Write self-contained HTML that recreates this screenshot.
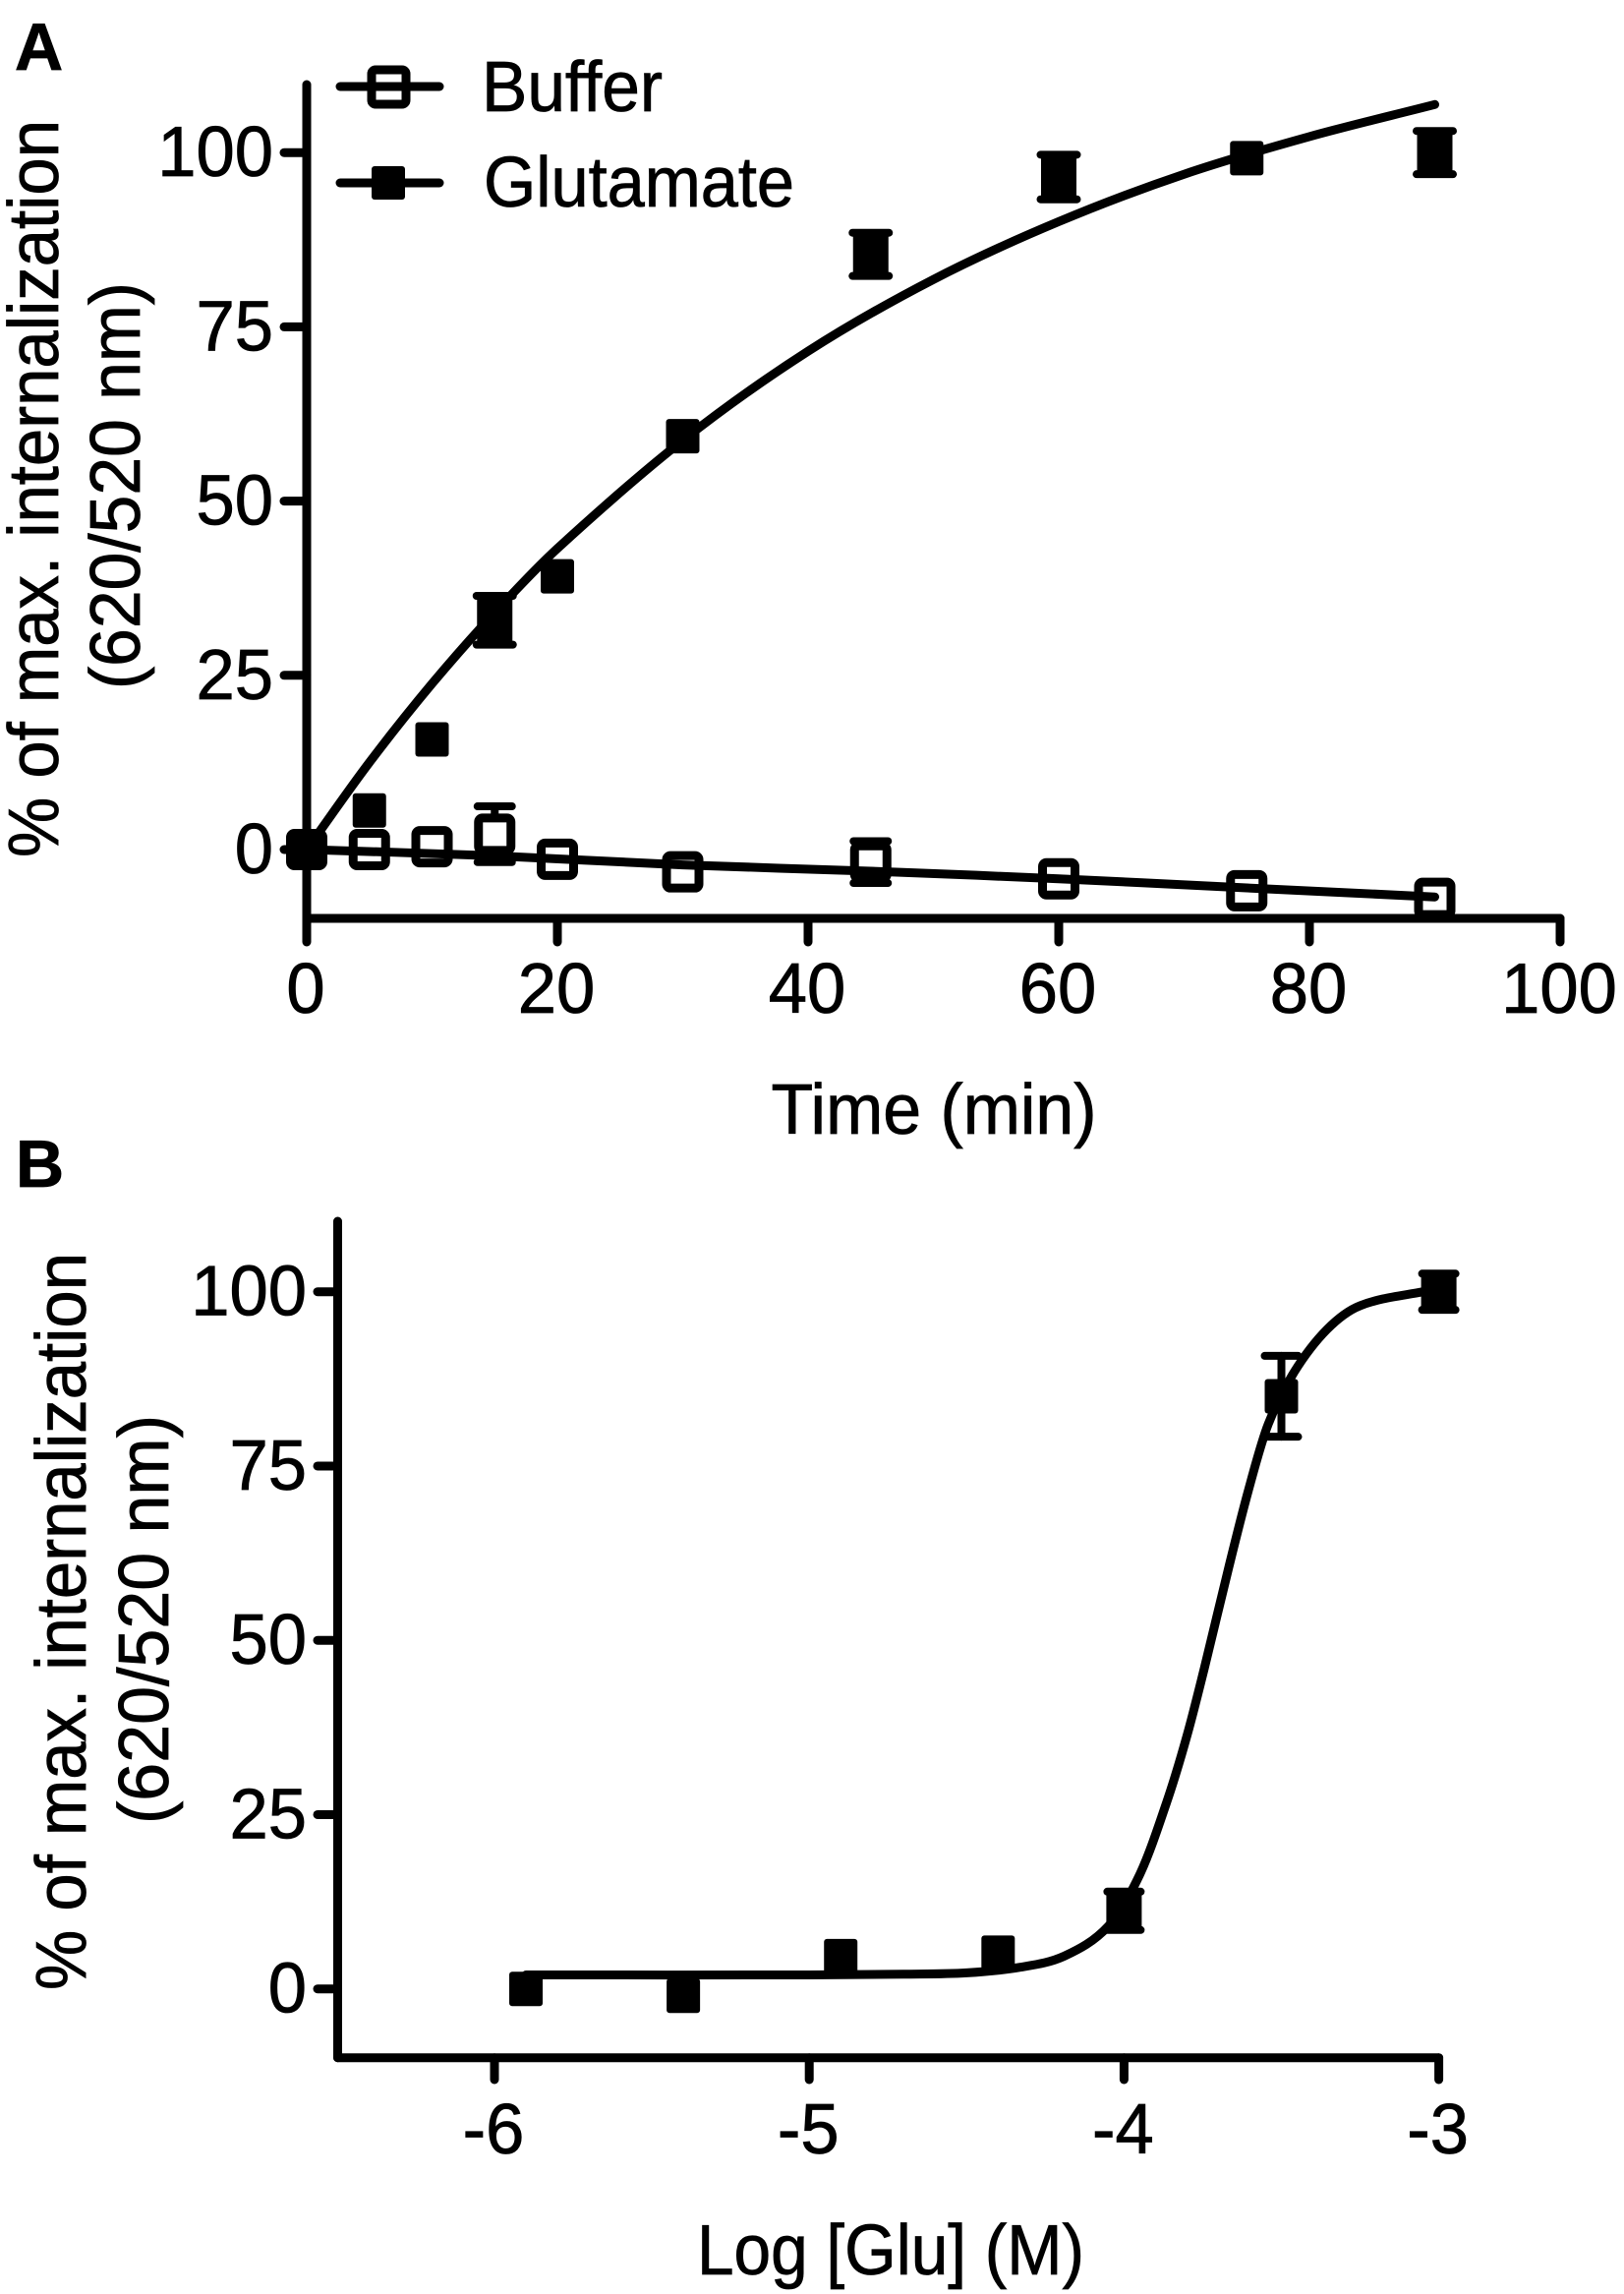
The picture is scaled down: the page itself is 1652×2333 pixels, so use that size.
<!DOCTYPE html>
<html>
<head>
<meta charset="utf-8">
<title>Glutamate internalization charts</title>
<style>
html,body{margin:0;padding:0;background:#fff;}
svg{display:block;}
text{font-family:"Liberation Sans",Arial,sans-serif;fill:#000;stroke:#000;stroke-width:0.8px;}
</style>
</head>
<body>
<svg id="figure" width="1652" height="2333" viewBox="0 0 1652 2333" xmlns="http://www.w3.org/2000/svg">
  <defs>
    <clipPath id="buffer-clip"><rect x="480" y="59" width="300" height="80"/></clipPath>
  </defs>
  <rect width="1652" height="2333" fill="#fff"/>
  <text x="15" y="71" font-size="68" font-weight="bold">A</text>
  <text x="16" y="1207" font-size="68" font-weight="bold">B</text>

  <g id="panelA"></g>
  <g id="panelB"></g>

  <g>
    <text transform="translate(59,497) rotate(-90)" text-anchor="middle" font-size="72" textLength="750" lengthAdjust="spacingAndGlyphs">% of max. internalization</text>
    <text transform="translate(142,494) rotate(-90)" text-anchor="middle" font-size="72" textLength="414" lengthAdjust="spacingAndGlyphs">(620/520 nm)</text>
  </g>
  <text x="950" y="1153" text-anchor="middle" font-size="72" textLength="331" lengthAdjust="spacingAndGlyphs">Time (min)</text>

  <g>
    <text transform="translate(87,1649) rotate(-90)" text-anchor="middle" font-size="72" textLength="750" lengthAdjust="spacingAndGlyphs">% of max. internalization</text>
    <text transform="translate(171,1647) rotate(-90)" text-anchor="middle" font-size="72" textLength="416" lengthAdjust="spacingAndGlyphs">(620/520 nm)</text>
  </g>
  <text x="906" y="2313" text-anchor="middle" font-size="72" textLength="394" lengthAdjust="spacingAndGlyphs">Log [Glu] (M)</text>

  <g>
    <g>
      <line x1="346" y1="88" x2="447" y2="88" stroke="#000" stroke-width="9" stroke-linecap="round"/>
      <rect x="378" y="71" width="35" height="35" rx="4" fill="none" stroke="#000" stroke-width="9"/>
      <text x="490" y="113" font-size="72" textLength="184" lengthAdjust="spacingAndGlyphs" clip-path="url(#buffer-clip)">Buffer</text>
    </g>
    <g>
      <line x1="346" y1="186" x2="447" y2="186" stroke="#000" stroke-width="9" stroke-linecap="round"/>
      <rect x="378" y="169" width="34" height="34" rx="3" fill="#000"/>
      <text x="492" y="210" font-size="72" textLength="316" lengthAdjust="spacingAndGlyphs">Glutamate</text>
    </g>
  </g>
</svg>

<script>
// Panel A data
const aXTicks = [0, 20, 40, 60, 80, 100];
const aYTicks = [0, 25, 50, 75, 100];
const aTimes = [0, 5, 10, 15, 20, 30, 45, 60, 75, 90];
const aBufferValues = [0, 0, 0.4, 2.2, -1.4, -3.2, -1.8, -4.2, -5.9, -7];
const aBufferErrors = [0, 0, 0, 4, 0, 0, 3, 0, 0, 0];
const aGlutamateValues = [0, 5.6, 15.8, 32.9, 39.2, 59.3, 85.4, 96.5, 99.2, 100];
const aGlutamateErrors = [0, 0, 0, 3.5, 0, 0, 3.1, 3.2, 0, 3.1];
const aBufferCurveX = [0, 15, 30, 45, 60, 75, 90];
const aBufferCurveY = [0, -0.9, -2.2, -3.1, -4.2, -5.5, -6.8];
const aGlutamateCurveX = [0, 5, 10, 15, 20, 30, 40, 50, 60, 70, 80, 90];
const aGlutamateCurveY = [0, 12.5, 23.8, 34, 43.2, 58.7, 71.5, 81.8, 90.1, 96.9, 102.3, 106.9];

// Panel B data
const bXTicks = [-6, -5, -4, -3];
const bYTicks = [0, 25, 50, 75, 100];
const bConcentrations = [-5.9, -5.4, -4.9, -4.4, -4, -3.5, -3];
const bValues = [0, -1, 4.7, 5.2, 11.2, 85, 100];
const bErrors = [0, 0, 0, 0, 2.75, 5.8, 2.6];
const bCurveX = [-5.9, -5, -4.7, -4.5, -4.33, -4.19, -4.05, -3.95, -3.865, -3.8, -3.745, -3.667, -3.605, -3.542, -3.459, -3.355, -3.25, -3.05, -3];
const bCurveY = [2, 2, 2.1, 2.3, 3.1, 4.7, 9, 16.4, 26.7, 36.3, 46, 60.5, 71.5, 81, 88.5, 94.6, 98, 100, 100.2];

// Axis functions
const xA = v => 312 + v * 12.75;
const yA = v => 864 - v * 7.088;
const xB = v => 503 + (v + 6) * 320.2;
const yB = v => 2022.7 - v * 7.09;

const NS = 'http://www.w3.org/2000/svg';
const AXIS_W = 9;
const LINE_W = 9;

function make(tag, parent) {
  const el = document.createElementNS(NS, tag);
  parent.appendChild(el);
  return el;
}

function drawLine(parent, x1, y1, x2, y2, w) {
  const l = make('line', parent);
  l.setAttribute('x1', x1);
  l.setAttribute('y1', y1);
  l.setAttribute('x2', x2);
  l.setAttribute('y2', y2);
  l.setAttribute('stroke', '#000');
  l.setAttribute('stroke-width', w);
  l.setAttribute('stroke-linecap', 'round');
  return l;
}

function drawLabel(parent, str, x, y, anchor) {
  const t = make('text', parent);
  t.setAttribute('x', x);
  t.setAttribute('y', y);
  t.setAttribute('text-anchor', anchor);
  t.setAttribute('font-size', '72');
  const s = String(str);
  const hyphens = s.includes('-') ? 1 : 0;
  const digits = s.length - hyphens;
  t.setAttribute('textLength', ((digits * 0.556 + hyphens * 0.333) * 72 * 0.98).toFixed(1));
  t.setAttribute('lengthAdjust', 'spacingAndGlyphs');
  t.textContent = s;
  return t;
}

function smoothPath(xs, ys, fx, fy) {
  const p = xs.map((x, i) => [fx(x), fy(ys[i])]);
  const n = p.length;
  const slopes = p.map((pt, i) => {
    const a = p[Math.max(0, i - 1)];
    const b = p[Math.min(n - 1, i + 1)];
    return (b[1] - a[1]) / (b[0] - a[0]);
  });
  let d = 'M' + p[0][0].toFixed(1) + ' ' + p[0][1].toFixed(1);
  for (let i = 0; i < n - 1; i++) {
    const dx = p[i + 1][0] - p[i][0];
    const c1x = p[i][0] + dx / 3;
    const c1y = p[i][1] + slopes[i] * dx / 3;
    const c2x = p[i + 1][0] - dx / 3;
    const c2y = p[i + 1][1] - slopes[i + 1] * dx / 3;
    d += 'C' + c1x.toFixed(1) + ' ' + c1y.toFixed(1) + ' ' + c2x.toFixed(1) + ' ' + c2y.toFixed(1) + ' ' + p[i + 1][0].toFixed(1) + ' ' + p[i + 1][1].toFixed(1);
  }
  return d;
}

function drawCurve(parent, xs, ys, fx, fy) {
  const c = make('path', parent);
  c.setAttribute('d', smoothPath(xs, ys, fx, fy));
  c.setAttribute('fill', 'none');
  c.setAttribute('stroke', '#000');
  c.setAttribute('stroke-width', LINE_W);
  c.setAttribute('stroke-linecap', 'round');
  return c;
}

function drawFilledError(parent, cx, cy, dy, capHalf) {
  if (dy < 30) {
    const body = make('rect', parent);
    body.setAttribute('x', cx - 18);
    body.setAttribute('y', cy - dy);
    body.setAttribute('width', 36);
    body.setAttribute('height', 2 * dy);
    body.setAttribute('fill', '#000');
  } else {
    drawLine(parent, cx, cy - dy, cx, cy + dy, 8);
  }
  drawLine(parent, cx - capHalf, cy - dy, cx + capHalf, cy - dy, 8);
  drawLine(parent, cx - capHalf, cy + dy, cx + capHalf, cy + dy, 8);
}

function drawFilled(parent, cx, cy) {
  const r = make('rect', parent);
  r.setAttribute('x', cx - 17);
  r.setAttribute('y', cy - 17.5);
  r.setAttribute('width', 34);
  r.setAttribute('height', 35);
  r.setAttribute('rx', 3);
  r.setAttribute('fill', '#000');
  return r;
}

function drawHollow(parent, cx, cy) {
  const r = make('rect', parent);
  r.setAttribute('x', cx - 16.5);
  r.setAttribute('y', cy - 16.5);
  r.setAttribute('width', 33);
  r.setAttribute('height', 33);
  r.setAttribute('rx', 4);
  r.setAttribute('fill', 'none');
  r.setAttribute('stroke', '#000');
  r.setAttribute('stroke-width', 9);
  return r;
}

// ---------- Panel A ----------
const panelA = document.getElementById('panelA');

const aAxes = make('g', panelA);



const aYAxis = drawLine(aAxes, xA(0), 86, xA(0), 934, AXIS_W);



const aXAxis = drawLine(aAxes, xA(0), 934, xA(100), 934, AXIS_W);



aYTicks.forEach(v => {
  const tick = drawLine(aAxes, 289, yA(v), xA(0), yA(v), AXIS_W);
  
  
  const label = drawLabel(aAxes, v, 278, yA(v) + 24, 'end');
  
  
});

aXTicks.forEach(v => {
  const tick = drawLine(aAxes, xA(v), 934, xA(v), 958, AXIS_W);
  
  
  const label = drawLabel(aAxes, v, xA(v) - 1, 1030, 'middle');
  
  
});

const aBufferGroup = make('g', panelA);



const aBufferCurve = drawCurve(aBufferGroup, aBufferCurveX, aBufferCurveY, xA, yA);



aTimes.forEach((t, i) => {
  const cx = xA(t);
  const cy = yA(aBufferValues[i]);
  const err = aBufferErrors[i];
  if (err > 0) {
    const dy = err * 7.088;
    const eb = make('g', aBufferGroup);
    
    
    drawLine(eb, cx, cy - dy, cx, cy - 17, 8);
    drawLine(eb, cx - 17.5, cy - dy, cx + 17.5, cy - dy, 8);
    drawLine(eb, cx - 17.5, cy + dy, cx + 17.5, cy + dy, 8);
  }
  const m = drawHollow(aBufferGroup, cx, cy);
  
  
});

const aGluGroup = make('g', panelA);



const aGluCurve = drawCurve(aGluGroup, aGlutamateCurveX, aGlutamateCurveY, xA, yA);



aTimes.forEach((t, i) => {
  const cx = xA(t);
  const cy = yA(aGlutamateValues[i]);
  const err = aGlutamateErrors[i];
  if (err > 0) {
    const eb = make('g', aGluGroup);
    
    
    drawFilledError(eb, cx, cy, err * 7.088, 18.5);
  }
  const m = drawFilled(aGluGroup, cx, cy);
  
  
});

// ---------- Panel B ----------
const panelB = document.getElementById('panelB');

const bAxes = make('g', panelB);



const bYAxis = drawLine(bAxes, 343.5, 1242, 343.5, 2092.7, AXIS_W);



const bXAxis = drawLine(bAxes, 343.5, 2092.7, xB(-3), 2092.7, AXIS_W);



bYTicks.forEach(v => {
  const tick = drawLine(bAxes, 323, yB(v), 343.5, yB(v), AXIS_W);
  
  
  const label = drawLabel(bAxes, v, 312, yB(v) + 24, 'end');
  
  
});

bXTicks.forEach(v => {
  const tick = drawLine(bAxes, xB(v), 2092.7, xB(v), 2115, AXIS_W);
  
  
  const label = drawLabel(bAxes, v, xB(v) - 1, 2190, 'middle');
  
  
});

const bGroup = make('g', panelB);



const bCurve = drawCurve(bGroup, bCurveX, bCurveY, xB, yB);



bConcentrations.forEach((c, i) => {
  const cx = xB(c);
  const cy = yB(bValues[i]);
  const err = bErrors[i];
  if (err > 0) {
    const eb = make('g', bGroup);
    
    
    drawFilledError(eb, cx, cy, err * 7.09, 17);
  }
  const m = drawFilled(bGroup, cx, cy);
  
  
});
</script>
</body>
</html>
